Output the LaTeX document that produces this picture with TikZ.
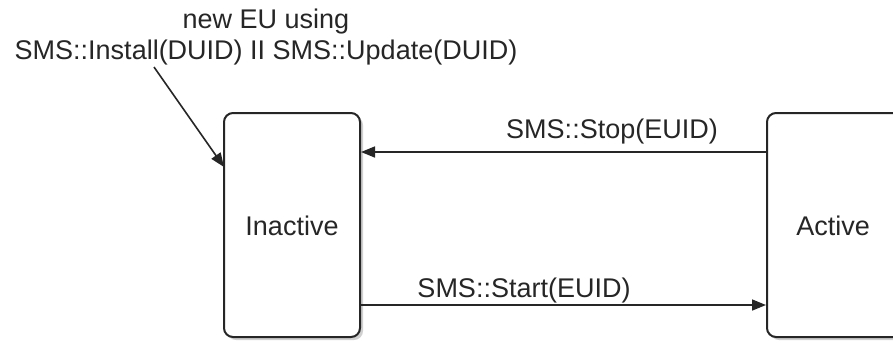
\documentclass[tikz,border=0pt]{standalone}
\usepackage{fontspec}
\setmainfont{Liberation Sans}
\usetikzlibrary{arrows.meta,shadows}
\begin{document}
\begin{tikzpicture}[x=0.5pt,y=-0.5pt,
  state/.style={draw=black!85, line width=1pt, rounded corners=4.5pt, fill=white,
    minimum width=68pt, minimum height=112pt, inner sep=0pt,
    drop shadow={shadow xshift=1.5pt, shadow yshift=-1.5pt, opacity=0.3, fill=black!60}},
  lbl/.style={font=\fontsize{13.5}{15.5}\selectfont, text=black!85, inner sep=0pt},
  conn/.style={draw=black!85, line width=0.8pt, -{Triangle[length=7pt,width=5.5pt]}}
]
\useasboundingbox (0,0) rectangle (893,345);
\clip (0,0) rectangle (893,345);
\fill[white] (0,0) rectangle (893,345);
\node[state] (inact) at (292,225) {};
\node[state] (act) at (835,225) {};
\node[lbl] (tinact) at (292,226) {Inactive};
\node[lbl] (tact) at (833,226) {Active};
\node[lbl, align=center] (top) at (266,37) {new EU using\\SMS::Install(DUID) II SMS::Update(DUID)};
\coordinate (istart) at (154,67);
\coordinate (iend) at (224,167);
\draw[conn] (istart) -- (iend);
\node[lbl] (stoplbl) at (612,132) {SMS::Stop(EUID)};
\node[lbl] (startlbl) at (524,290) {SMS::Start(EUID)};
\draw[conn] ([yshift=36.5pt]act.west) -- ([yshift=36.5pt]inact.east);
\draw[conn] ([yshift=-40pt]inact.east) -- ([yshift=-40pt]act.west);
\end{tikzpicture}
\end{document}
